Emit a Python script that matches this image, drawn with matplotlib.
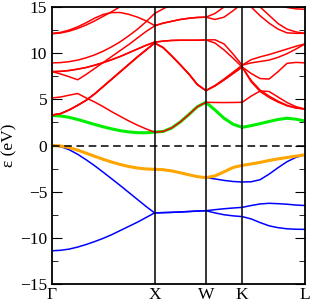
import numpy as np
import matplotlib
matplotlib.use("Agg")
import matplotlib.pyplot as plt

# high-symmetry path (fcc) and segment lengths
labels = ["Γ", "X", "W", "K", "L"]
seg_len = [1.0, 0.5, np.sqrt(2) / 4, np.sqrt(6) / 4]
seg_pts = [12, 6, 4, 7]  # sampled intervals per segment

nodes = np.concatenate([[0], np.cumsum(seg_len)])
k = [nodes[0]]
for i in range(4):
    k.extend(np.linspace(nodes[i], nodes[i + 1], seg_pts[i] + 1)[1:])
k = np.array(k)

# G-X (13 values incl. both ends) | X-W (6) | W-K (4) | K-L (7)
blue1 = [-11.4, -11.35, -11.22, -11.0, -10.72, -10.4, -10.05, -9.65, -9.2, -8.75, -8.3, -7.8, -7.3,
         -7.27, -7.24, -7.2, -7.15, -7.1, -7.06,
         -7.3, -7.5, -7.62, -7.7,
         -7.95, -8.35, -8.7, -8.9, -9.02, -9.07, -9.08]
blue2 = [0.0, -0.12, -0.45, -0.95, -1.55, -2.2, -2.9, -3.62, -4.35, -5.1, -5.85, -6.6, -7.3,
         -7.27, -7.24, -7.2, -7.15, -7.1, -7.06,
         -6.95, -6.85, -6.77, -6.7,
         -6.5, -6.33, -6.26, -6.3, -6.36, -6.45, -6.5]
blue3 = [0.0, -0.05, -0.22, -0.5, -0.83, -1.17, -1.5, -1.8, -2.06, -2.28, -2.44, -2.54, -2.58,
         -2.62, -2.75, -2.95, -3.17, -3.37, -3.48,
         -3.62, -3.78, -3.9, -3.95,
         -3.93, -3.7, -3.1, -2.4, -1.75, -1.28, -1.0]
orange = [0.0, -0.05, -0.22, -0.5, -0.83, -1.17, -1.5, -1.8, -2.06, -2.28, -2.44, -2.54, -2.58,
          -2.62, -2.75, -2.95, -3.17, -3.37, -3.48,
          -3.3, -2.85, -2.38, -2.15,
          -2.0, -1.83, -1.62, -1.45, -1.3, -1.15, -1.0]
green = [3.25, 3.2, 3.05, 2.82, 2.55, 2.28, 2.02, 1.8, 1.6, 1.47, 1.39, 1.38, 1.45,
         1.52, 1.9, 2.55, 3.35, 4.2, 4.68,
         3.85, 2.95, 2.3, 1.97,
         2.15, 2.37, 2.6, 2.82, 2.95, 2.85, 2.65]

red = [
    [3.3, 3.45, 3.85, 4.35, 4.9, 5.6, 6.4, 7.2, 8.0, 8.8, 9.6, 10.35, 11.1,
     10.6, 9.7, 8.75, 7.75, 6.6, 5.95,
     6.5, 7.2, 7.95, 8.7,
     9.3, 9.6, 9.85, 10.15, 10.45, 10.75, 11.0],
    [3.3, 3.45, 3.85, 4.35, 4.9, 5.6, 6.4, 7.2, 8.0, 8.8, 9.6, 10.35, 11.1,
     10.6, 9.7, 8.75, 7.75, 6.6, 5.95,
     6.45, 7.1, 7.8, 8.5,
     6.9, 5.85, 5.2, 4.7, 4.3, 4.05, 3.95],
    [5.15, 5.25, 5.45, 5.63, 5.15, 4.7, 4.2, 3.65, 3.15, 2.65, 2.2, 1.8, 1.45,
     1.52, 1.9, 2.55, 3.35, 4.2, 4.68,
     4.66, 4.65, 4.66, 4.68,
     5.35, 5.9, 5.85, 5.25, 4.65, 4.2, 3.95],
    [8.0, 7.75, 7.45, 7.12, 7.7, 8.35, 9.0, 9.65, 10.3, 10.95, 11.65, 12.35, 12.95,
     13.25, 13.45, 13.65, 13.78, 13.87, 13.9,
     13.65, 13.9, 14.6, 15.4,
     16.0, 16.0, 16.0, 15.3, 14.95, 14.8, 14.75],
    [8.0, 8.03, 8.12, 8.27, 8.45, 8.7, 8.98, 9.3, 9.65, 10.05, 10.45, 10.85, 11.2,
     11.3, 11.38, 11.4, 11.4, 11.4, 11.43,
     11.45, 11.0, 9.9, 8.7,
     8.95, 9.1, 9.25, 9.55, 9.95, 10.45, 11.0],
    [8.0, 8.03, 8.12, 8.27, 8.45, 8.7, 8.98, 9.3, 9.65, 10.05, 10.45, 10.85, 11.2,
     11.3, 11.38, 11.4, 11.4, 11.4, 11.43,
     11.1, 10.35, 9.45, 8.5,
     7.8, 7.25, 7.2, 8.0, 8.9, 9.0, 8.95],
    [3.3, 3.45, 3.85, 4.35, 4.9, 5.6, 6.4, 7.2, 8.0, 8.8, 9.6, 10.35, 11.1,
     10.6, 9.7, 8.75, 7.75, 6.6, 5.95,
     6.45, 7.1, 7.8, 8.5,
     7.05, 6.0, 5.35, 4.8, 4.35, 4.08, 3.95],
    [8.95, 8.98, 9.08, 9.25, 9.5, 9.82, 10.22, 10.7, 11.25, 11.9, 12.6, 13.4, 14.3,
     14.8, 15.3, 15.8, 16.0, 16.0, 16.0,
     16.0, 16.0, 16.0, 16.0,
     15.0, 14.05, 13.25, 12.6, 12.2, 12.15, 12.15],
    [12.1, 12.18, 12.38, 12.68, 13.05, 13.5, 14.0, 14.5, 15.05, 15.6, 16.1, 16.5, 16.7,
     17.0, 17.0, 17.0, 17.0, 17.0, 17.0,
     17.0, 17.0, 17.0, 17.0,
     16.0, 15.0, 14.1, 13.2, 12.6, 12.3, 12.15],
    [12.15, 12.25, 12.5, 12.85, 13.3, 13.8, 14.2, 14.4, 14.4, 14.2, 13.9, 13.5, 13.0,
     13.25, 13.45, 13.65, 13.78, 13.87, 13.9,
     14.3, 15.0, 15.8, 16.5,
     17.0, 17.0, 17.0, 17.0, 17.0, 17.0, 17.0],
]

plt.rcParams["font.family"] = ["Liberation Serif", "DejaVu Serif"]

fig = plt.figure(figsize=(3.12, 3.02), dpi=100)
ax = fig.add_axes([0.1667, 0.0596, 0.8109, 0.9172])

for y in [blue1, blue2, blue3]:
    ax.plot(k, y, color="#0000ff", lw=1.1)
ax.plot(k, orange, color="#ffa500", lw=2.2)
ax.plot(k, green, color="#00ee00", lw=2.2)
for y in red:
    ax.plot(k, y, color="#ff0000", lw=1.1)

for x in nodes[1:-1]:
    ax.axvline(x, color="black", lw=1.1)
ax.axhline(0, color="black", lw=1.1, ls=(0, (5, 3)))

ax.set_xlim(nodes[0], nodes[-1])
ax.set_ylim(-15, 15)
ax.set_xticks(nodes)
ax.set_xticklabels(labels)
ax.set_yticks(np.arange(-15, 16, 5))
ax.set_yticks(np.arange(-12.5, 15, 5), minor=True)
ax.tick_params(axis="y", which="both", direction="in", right=True, labelsize=12.5)
ax.tick_params(axis="y", which="major", length=7)
ax.tick_params(axis="y", which="minor", length=4)
ax.tick_params(axis="x", length=0, labelsize=12.5, pad=2)
for s in ax.spines.values():
    s.set_linewidth(1.3)
ax.set_ylabel("ε (eV)", fontsize=12.5, labelpad=2)

fig.savefig("out.png", dpi=100)
